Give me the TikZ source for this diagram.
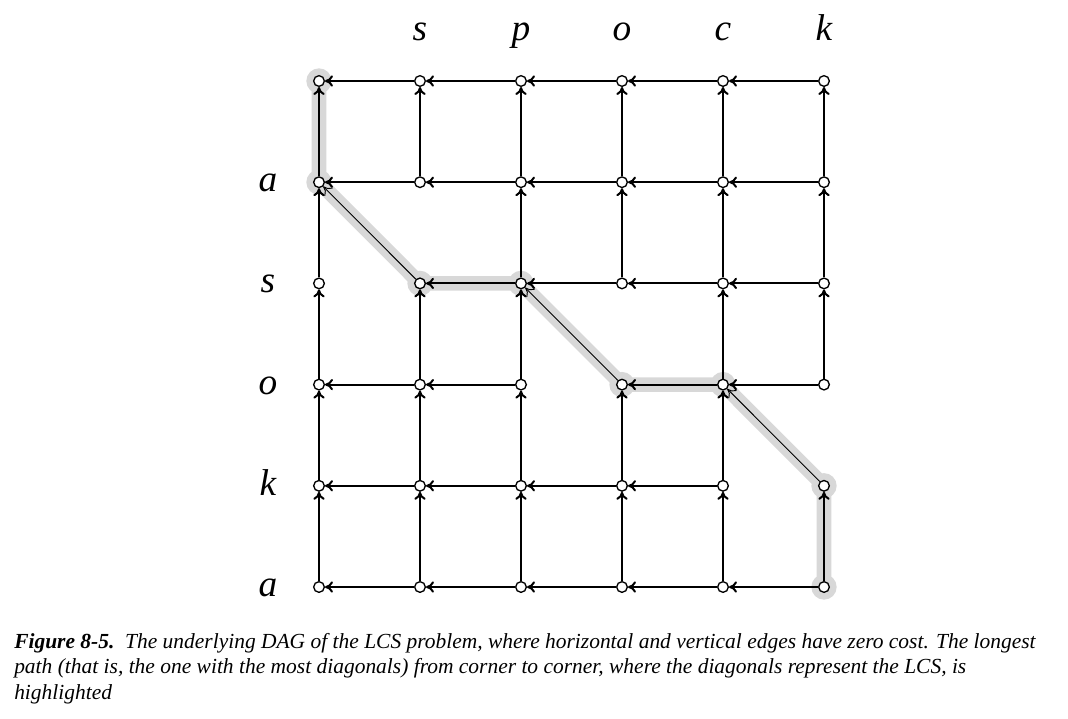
\documentclass[tikz,border=0pt]{standalone}
\usepackage{fontspec}
\usepackage{tikz}
\usetikzlibrary{arrows.meta, backgrounds}

\newfontfamily\figcapfont{Liberation Serif}
\definecolor{pathgray}{RGB}{216,216,216}

\begin{document}
\begin{tikzpicture}[x=0.75pt, y=-0.75pt]

% Define styles
\tikzstyle{vertex} = [circle, draw=black, line width=1pt, fill=white, inner sep=0pt, minimum size=8pt]
\tikzstyle{edge} = [draw, line width=1.5pt, -{To[length=6pt,width=8.5pt]}]
\tikzstyle{diag} = [draw, line width=0.7pt, -{To[length=6pt,width=8.5pt]}]
\tikzstyle{letter} = [anchor=base, inner sep=0pt, font=\figcapfont\fontsize{28}{30}\selectfont\itshape]
\tikzstyle{highlight} = [draw=pathgray, line width=11pt, line cap=round, line join=round]
\tikzstyle{halo} = [circle, fill=pathgray, inner sep=0pt, minimum size=19pt]

\useasboundingbox (0,0) rectangle (1068,718);

% Place nodes
\foreach \i in {0,...,5}
  \foreach \j in {0,...,5}
    \node [vertex] (n\i\j) at (319+101*\i, 81+101.2*\j) {};

% Column and row letters
\foreach \i/\c in {1/s, 2/p, 3/o, 4/c, 5/k}
  \node [letter] (top\i) at (319+101*\i, 40) {\c};
\foreach \j/\c in {1/a, 2/s, 3/o, 4/k, 5/a}
  \node [letter] (side\j) at (268, 90.5+101.2*\j) {\c};

% Zero-cost edges (none leave a node that has a diagonal)
\foreach \i [evaluate=\i as \k using int(\i-1)] in {1,...,5}
  \foreach \j in {0,...,5} {
    \pgfmathtruncatemacro{\hasdiag}{(\i==1 && \j==2) || (\i==3 && \j==3) || (\i==5 && \j==4)}
    \ifnum\hasdiag=0
      \path [edge] (n\i\j) -- (n\k\j);
    \fi
  }
\foreach \j [evaluate=\j as \k using int(\j-1)] in {1,...,5}
  \foreach \i in {0,...,5} {
    \pgfmathtruncatemacro{\hasdiag}{(\i==1 && \j==2) || (\i==3 && \j==3) || (\i==5 && \j==4)}
    \ifnum\hasdiag=0
      \path [edge] (n\i\j) -- (n\i\k);
    \fi
  }

% Diagonals (matching letters)
\path [diag] (n12) -- (n01);
\path [diag] (n33) -- (n22);
\path [diag] (n54) -- (n43);

% Longest path
\begin{pgfonlayer}{background}
  \path [highlight] (n55.center) -- (n54.center) -- (n43.center) -- (n33.center)
    -- (n22.center) -- (n12.center) -- (n01.center) -- (n00.center);
  \foreach \n in {n55, n54, n43, n33, n22, n12, n01, n00}
    \node [halo] at (\n.center) {};
\end{pgfonlayer}

% Caption
\node [anchor=north west, align=left, inner sep=0pt,
  font=\figcapfont\fontsize{16.1}{19.1}\selectfont\itshape] (caption) at (14,633)
  {\textbf{Figure 8-5.}\ \ The underlying DAG of the LCS problem, where horizontal and vertical edges have zero cost. The longest\\
  path (that is, the one with the most diagonals) from corner to corner, where the diagonals represent the LCS, is\\
  highlighted};

\end{tikzpicture}
\end{document}
